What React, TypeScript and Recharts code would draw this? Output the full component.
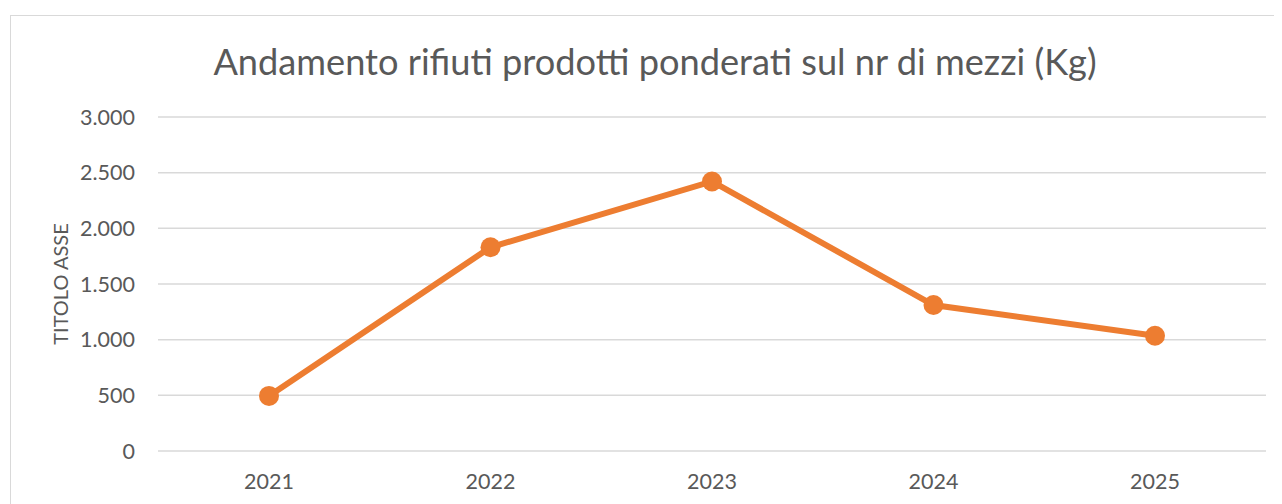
import React from 'react';
import { LineChart, Line, XAxis, YAxis, CartesianGrid } from 'recharts';

const years = ['2021', '2022', '2023', '2024', '2025'];
const weights = [495, 1830, 2421, 1311, 1035];
const yTicks = [0, 500, 1000, 1500, 2000, 2500, 3000];

const data = years.map((y, i) => ({ year: y, value: weights[i] }));

const fmtDots = (v: number) => {
  const s = String(Math.round(v));
  return s.replace(/\B(?=(\d{3})+(?!\d))/g, '.');
};

const FONT = 'Lato, "Open Sans", sans-serif';
const TEXT = '#595959';

export default function App() {
  return (
    <div style={{ position: 'relative', width: 1274, height: 496, fontFamily: FONT }}>
      <div
        style={{
          position: 'absolute',
          left: 2,
          top: 7,
          width: 1290,
          height: 520,
          border: '1px solid #D9D9D9',
          boxSizing: 'border-box',
        }}
      />
      <div
        style={{
          position: 'absolute',
          left: 0,
          width: 1294,
          top: 33,
          textAlign: 'center',
          fontSize: 36.2,
          color: TEXT,
          lineHeight: '40px',
          whiteSpace: 'nowrap',
        }}
      >
        Andamento rifiuti prodotti ponderati sul nr di mezzi (Kg)
      </div>
      <div style={{ position: 'absolute', left: 0, top: 0 }}>
        <LineChart
          width={1274}
          height={496}
          data={data}
          margin={{ top: 109, right: 16, bottom: 0, left: 0 }}
        >
          <CartesianGrid vertical={false} stroke="#D9D9D9" strokeWidth={1.5} />
          <XAxis
            dataKey="year"
            axisLine={false}
            tickLine={false}
            tickSize={0}
            tickMargin={23}
            height={53}
            padding={{ left: 111, right: 111 }}
            tick={{ fill: TEXT, fontSize: 21.5, fontFamily: FONT }}
            interval={0}
          />
          <YAxis
            width={150}
            domain={[0, 3000]}
            ticks={yTicks}
            axisLine={false}
            tickLine={false}
            tickSize={0}
            tickMargin={23}
            tickFormatter={fmtDots}
            tick={{ fill: TEXT, fontSize: 21.5, fontFamily: FONT }}
            label={{
              content: (props: any) => {
                const vb = props.viewBox || { y: 109, height: 334 };
                const cy = vb.y + vb.height / 2;
                return (
                  <text
                    x={52}
                    y={cy}
                    transform={`rotate(-90, 52, ${cy})`}
                    textAnchor="middle"
                    dominantBaseline="central"
                    fill={TEXT}
                    fontSize={20}
                    fontFamily={FONT}
                  >
                    TITOLO ASSE
                  </text>
                );
              },
            }}
          />
          <Line
            type="linear"
            dataKey="value"
            stroke="#ED7D31"
            strokeWidth={6}
            dot={{ r: 10, fill: '#ED7D31', stroke: '#ED7D31', strokeWidth: 0 }}
            activeDot={false}
            isAnimationActive={false}
          />
        </LineChart>
      </div>
    </div>
  );
}
